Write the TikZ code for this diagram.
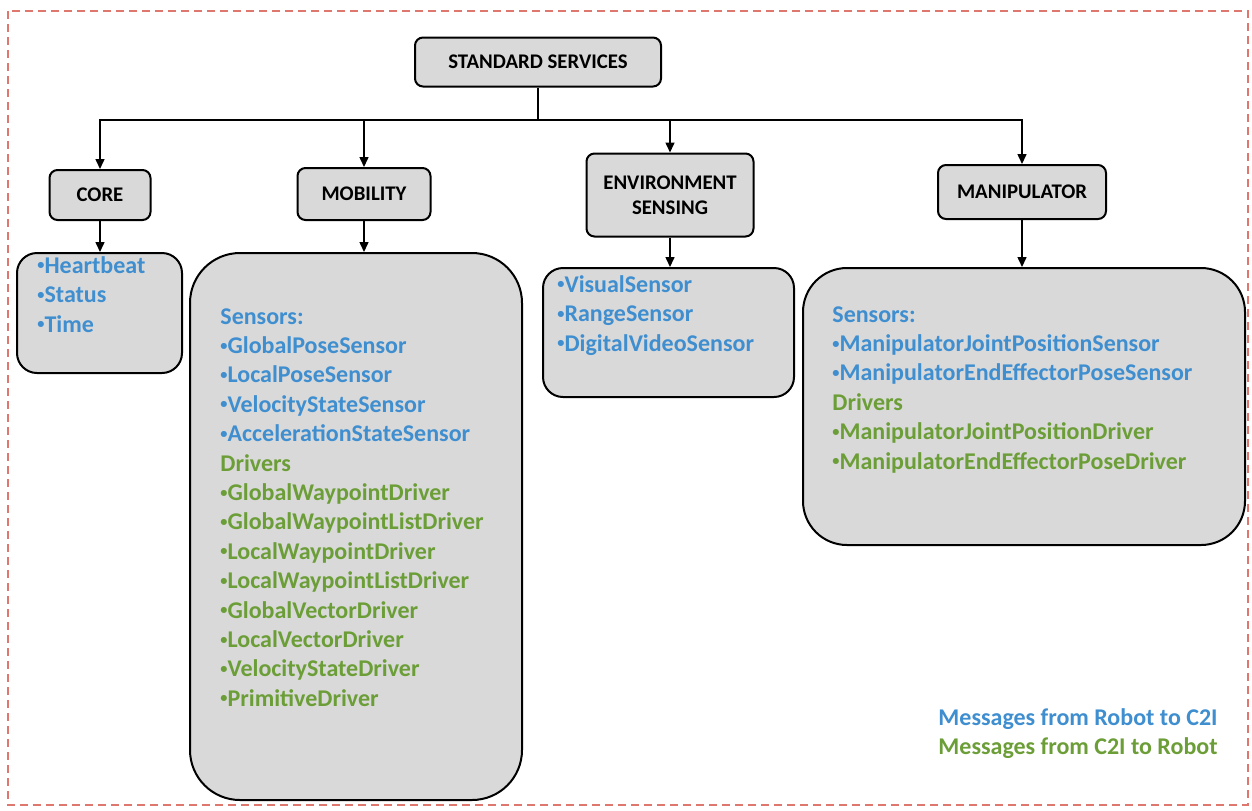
\documentclass[tikz,border=0pt]{standalone}
\usepackage{fontspec}
\setmainfont{Carlito}
\usetikzlibrary{arrows.meta}
\definecolor{boxgray}{RGB}{217,217,217}
\definecolor{msgblue}{RGB}{62,142,208}
\definecolor{msggreen}{RGB}{108,158,56}
\definecolor{framered}{RGB}{222,120,110}
\newcommand{\itemdot}{\raisebox{0.3ex}{\scalebox{0.6}{•}}}
\begin{document}
\begin{tikzpicture}[x=0.5pt, y=-0.5pt, >={Triangle[length=5pt,width=4.5pt]},
    service/.style={rectangle, rounded corners=4pt, draw, line width=1pt, fill=boxgray, align=center, font=\bfseries\fontsize{10.4}{12.5}\selectfont},
    msglist/.style={rectangle, draw, line width=1pt, fill=boxgray},
    msgtext/.style={anchor=north west, inner sep=0pt, align=left, font=\bfseries\fontsize{12}{14.7}\selectfont}]

       \useasboundingbox (0, 0) rectangle (1252, 810);
       \draw[framered, line width=1pt, dash pattern=on 4pt off 2.5pt] (8, 11) rectangle (1248, 805);

       \node[service, minimum width=123pt, minimum height=24.5pt] (std) at (538, 62) {STANDARD SERVICES};
       \node[service, minimum width=50.5pt, minimum height=25pt] (core) at (100, 195) {CORE};
       \node[service, minimum width=66.5pt, minimum height=26pt] (mob) at (364, 194) {MOBILITY};
       \node[service, minimum width=83.5pt, minimum height=41.5pt] (env) at (670, 195) {ENVIRONMENT\\SENSING};
       \node[service, minimum width=84pt, minimum height=27pt] (man) at (1022, 192) {MANIPULATOR};

       \node[msglist, rounded corners=10pt, minimum width=82.5pt, minimum height=60pt] (corelist) at (99.5, 313) {};
       \node[msglist, rounded corners=25pt, minimum width=166pt, minimum height=273.5pt] (moblist) at (356, 526.5) {};
       \node[msglist, rounded corners=10pt, minimum width=125.5pt, minimum height=64.5pt] (envlist) at (668.5, 332.5) {};
       \node[msglist, rounded corners=22pt, minimum width=221pt, minimum height=138.5pt] (manlist) at (1024, 406.5) {};

       \coordinate (bus) at (538, 120);
       \draw[line width=0.75pt] (std.south) to (bus);
       \draw[->, line width=0.75pt] (bus) -| (core.north);
       \draw[->, line width=0.75pt] (bus) -| (mob.north);
       \draw[->, line width=0.75pt] (bus) -| (env.north);
       \draw[->, line width=0.75pt] (bus) -| (man.north);

       \draw[->, line width=0.75pt] (core.south) to (core.south |- corelist.north);
       \draw[->, line width=0.75pt] (mob.south) to (mob.south |- moblist.north);
       \draw[->, line width=0.75pt] (env.south) to (env.south |- envlist.north);
       \draw[->, line width=0.75pt] (man.south) to (man.south |- manlist.north);

       \node[msgtext, text=msgblue] (coretext) at (37, 256) {\itemdot Heartbeat\\\itemdot Status\\\itemdot Time};
       \node[msgtext] (mobtext) at (220, 308) {\color{msgblue}Sensors:\\
           \color{msgblue}\itemdot GlobalPoseSensor\\
           \color{msgblue}\itemdot LocalPoseSensor\\
           \color{msgblue}\itemdot VelocityStateSensor\\
           \color{msgblue}\itemdot AccelerationStateSensor\\
           \color{msggreen}Drivers\\
           \color{msggreen}\itemdot GlobalWaypointDriver\\
           \color{msggreen}\itemdot GlobalWaypointListDriver\\
           \color{msggreen}\itemdot LocalWaypointDriver\\
           \color{msggreen}\itemdot LocalWaypointListDriver\\
           \color{msggreen}\itemdot GlobalVectorDriver\\
           \color{msggreen}\itemdot LocalVectorDriver\\
           \color{msggreen}\itemdot VelocityStateDriver\\
           \color{msggreen}\itemdot PrimitiveDriver};
       \node[msgtext, text=msgblue] (envtext) at (557, 275) {\itemdot VisualSensor\\\itemdot RangeSensor\\\itemdot DigitalVideoSensor};
       \node[msgtext] (mantext) at (832, 306) {\color{msgblue}Sensors:\\
           \color{msgblue}\itemdot ManipulatorJointPositionSensor\\
           \color{msgblue}\itemdot ManipulatorEndEffectorPoseSensor\\
           \color{msggreen}Drivers\\
           \color{msggreen}\itemdot ManipulatorJointPositionDriver\\
           \color{msggreen}\itemdot ManipulatorEndEffectorPoseDriver};

       \node[msgtext, anchor=north east, align=right] (legend) at (1218, 708) {\color{msgblue}Messages from Robot to C2I\\
           \color{msggreen}Messages from C2I to Robot};
     \end{tikzpicture}
\end{document}
